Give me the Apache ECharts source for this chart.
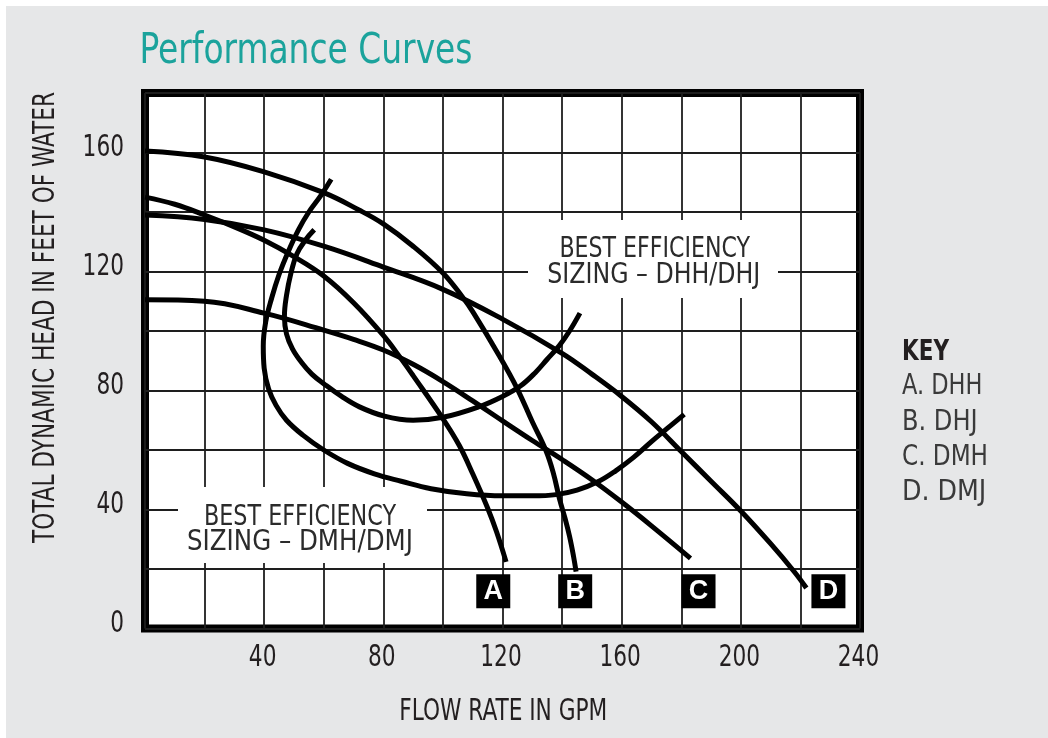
<!DOCTYPE html>
<html>
<head>
<meta charset="utf-8">
<script src="https://cdn.jsdelivr.net/npm/echarts@6/dist/echarts.min.js"></script>
<style>
html,body{margin:0;padding:0;background:#ffffff;}
#c{width:1048px;height:738px;}
</style>
</head>
<body>
<div id="c"></div>
<script>
// ---- tick labels ----
const xTickLabels = [40, 80, 120, 160, 200, 240];
const yTickLabels = [0, 40, 80, 120, 160];

// ---- pump curves [flow GPM, head ft] ----
const curveA = [[0,145],[10,142.6],[20,139],[30,135],[40,130.5],[50,125],[60,118.5],[70,109.5],[80,98.5],[85.5,91.3],[90,85],[100,70.5],[105.5,61.5],[110,52],[115,40.5],[118,32.5],[121.2,22.4]];
const curveB = [[0,160.5],[20,158.5],[40,153.5],[60,146.5],[72,140.6],[80,136],[90,128.5],[100,119.5],[106.5,111.5],[110,106.5],[119,91.5],[125,80.5],[130,69.5],[134.5,60],[137,52.5],[139.2,43.3],[141,37],[142.5,31],[143.8,24.5],[144.7,19.1]];
const curveC = [[0,110.5],[20,110],[40,106],[60,100.3],[70,97.2],[80,93.6],[90,88.8],[100,83],[110,76.5],[120,69.8],[130,63.2],[140,56.8],[150,50],[160,42.5],[170,34.5],[183.1,23.6]];
const curveD = [[0,139],[20,137.5],[40,134],[60,128.5],[80,121.5],[100,114],[120,104],[140,92.5],[150,85.5],[160,78],[170,69.5],[180,59.5],[190,49.5],[200,39.5],[210,28.5],[218,19],[222,13.6]];

// ---- best efficiency sizing envelopes ----
const effDHH = [[56.8,134],[53.8,130.5],[51,126],[49,119.5],[47.5,112],[46.8,105],[47.5,99],[49.5,94],[52.5,89.5],[56,85.5],[60,82.3],[66,78],[72,74.5],[80,71.5],[90,70],[100,71],[112,74.5],[120,78],[126,81.5],[131,86],[135,90.5],[139,95],[142.5,100],[146,106]];
const effDMH = [[62.5,151],[59,145.5],[55,140],[51.5,134],[48,126.5],[45,119],[42.5,111],[40.5,103],[39.7,95],[40,87.5],[41.5,80.5],[44,75],[47.5,70],[53,65],[60,60],[68,55.5],[77,52],[86,49.5],[96,47],[108,45.3],[120,44.6],[130,44.6],[138,45],[145,46.5],[152,49.3],[158,53],[164,57.5],[170,62.8],[175,67],[181,72]];

// ---- curve end markers ----
const markerLetters = ['A', 'B', 'C', 'D'];
const markerFlow = [116.9, 144.4, 185.8, 229.4];
const markerHead = [12.5, 12.5, 12.5, 12.5];

// ---- texts ----
const titleText = 'Performance Curves';
const xAxisTitle = 'FLOW RATE IN GPM';
const yAxisTitle = 'TOTAL DYNAMIC HEAD IN FEET OF WATER';
const keyTitle = 'KEY';
const keyItems = ['A. DHH', 'B. DHJ', 'C. DMH', 'D. DMJ'];
const noteDHH = ['BEST EFFICIENCY', 'SIZING \u2013 DHH/DHJ'];
const noteDMH = ['BEST EFFICIENCY', 'SIZING \u2013 DMH/DMJ'];

const FONT = '"Liberation Sans Narrow", "DejaVu Sans Condensed", "Arial Narrow", sans-serif';
const INK = '#231f20';

// measure text so condensed lettering can be fitted to the reference widths
const mctx = document.createElement('canvas').getContext('2d');
function textW(t, size, weight) {
  mctx.font = (weight || 'normal') + ' ' + size + 'px ' + FONT;
  return mctx.measureText(t).width;
}
// text element whose cap-centre sits at cy, fitted to width w
function fitted(id, t, opt) {
  const fs = opt.fs, wt = opt.weight || 'normal';
  const sx = opt.w ? opt.w / textW(t, fs, wt) : 1;
  const el = {
    type: 'text', id: id, z: 10, silent: true,
    x: opt.x, y: opt.cy + 0.07 * fs * (opt.rot ? 0 : 1), scaleX: sx,
    style: { text: t, x: 0, y: 0, fill: opt.color || INK, fontSize: fs, fontWeight: wt, fontFamily: FONT,
             align: opt.align || 'left', verticalAlign: 'middle' }
  };
  if (opt.rot) { el.rotation = opt.rot; el.x = opt.x - 0.07 * fs; }
  return el;
}

function curveSeries(name, data) {
  return {
    name: name, type: 'line', data: data, smooth: 0.4, showSymbol: false,
    lineStyle: { color: '#000', width: 5 }, z: 3, silent: true, animation: false
  };
}

const chart = echarts.init(document.getElementById('c'), null, { renderer: 'canvas' });
const baseOption = {
  animation: false,
  backgroundColor: '#ffffff',
  grid: {
    left: 145, right: 188, top: 93, bottom: 109.5,
    show: true, backgroundColor: '#ffffff', borderColor: '#000000', borderWidth: 8
  },
  xAxis: {
    type: 'value', min: 0, max: 240, interval: 20,
    axisLine: { show: false }, axisTick: { show: false }, axisLabel: { show: false },
    splitLine: { show: true, lineStyle: { color: '#1e1e1e', width: 1.8 } }
  },
  yAxis: {
    type: 'value', min: 0, max: 180, interval: 20,
    axisLine: { show: false }, axisTick: { show: false }, axisLabel: { show: false },
    splitLine: { show: true, lineStyle: { color: '#1e1e1e', width: 1.8 } }
  },
  series: [
    curveSeries('A', curveA),
    curveSeries('B', curveB),
    curveSeries('C', curveC),
    curveSeries('D', curveD),
    curveSeries('Best efficiency DHH/DHJ', effDHH),
    curveSeries('Best efficiency DMH/DMJ', effDMH),
    {
      name: 'markers', type: 'scatter', z: 5, silent: true,
      data: markerFlow.map(function (x, i) { return { value: [x, markerHead[i]], name: markerLetters[i] }; }),
      symbol: 'rect', symbolSize: 34,
      itemStyle: { color: '#000000', opacity: 1 },
      label: {
        show: true, position: 'inside', formatter: function (p) { return p.name; },
        color: '#ffffff', fontSize: 27, fontWeight: 'bold', fontFamily: '"Liberation Sans", Arial, sans-serif'
      }
    }
  ]
};
chart.setOption(baseOption);

const graphics = [
  { type: 'rect', id: 'panel', z: -100, silent: true, shape: { x: 6, y: 6, width: 1042, height: 732 }, style: { fill: '#e6e7e8' } },
  fitted('title', titleText, { x: 139.5, cy: 48.7, fs: 42, w: 333, color: '#1ba39c' }),
  fitted('ytitle', yAxisTitle, { x: 48.7, cy: 317.5, fs: 30, w: 451, align: 'center', rot: Math.PI / 2 }),
  fitted('xtitle', xAxisTitle, { x: 503.3, cy: 710, fs: 30, w: 208, align: 'center' }),
  fitted('key', keyTitle, { x: 902, cy: 350.3, fs: 29, w: 47, weight: 'bold' }),
  { type: 'rect', id: 'boxDHH', z: 1, silent: true, shape: { x: 528, y: 220, width: 250, height: 78 }, style: { fill: '#ffffff' } },
  { type: 'rect', id: 'boxDMH', z: 1, silent: true, shape: { x: 178, y: 487, width: 249, height: 76 }, style: { fill: '#ffffff' } },
  fitted('n1a', noteDHH[0], { x: 654.7, cy: 247.5, fs: 29, w: 190.5, align: 'center', color: '#2b2b2b' }),
  fitted('n1b', noteDHH[1], { x: 653.8, cy: 273.5, fs: 29, w: 213, align: 'center', color: '#2b2b2b' }),
  fitted('n2a', noteDMH[0], { x: 300, cy: 515, fs: 29, w: 192, align: 'center', color: '#2b2b2b' }),
  fitted('n2b', noteDMH[1], { x: 300, cy: 540.5, fs: 29, w: 226, align: 'center', color: '#2b2b2b' })
];
const keyY = [384.2, 420, 455.8, 490];
const keyW = [80.4, 75.6, 86, 84.3];
keyItems.forEach(function (t, i) {
  graphics.push(fitted('k' + i, t, { x: 902, cy: keyY[i], fs: 29, w: keyW[i], color: '#3a3a3a' }));
});
// tick labels, positioned through the chart's own axis scales
xTickLabels.forEach(function (v, i) {
  const px = chart.convertToPixel({ xAxisIndex: 0 }, v);
  const s = String(v);
  graphics.push(fitted('xt' + i, s, { x: px - 1.5, cy: 656, fs: 30, w: 13.8 * s.length, align: 'center' }));
});
yTickLabels.forEach(function (v, i) {
  const py = chart.convertToPixel({ yAxisIndex: 0 }, v);
  const s = String(v);
  graphics.push(fitted('yt' + i, s, { x: 124, cy: py - 6, fs: 30, w: 13.8 * s.length, align: 'right' }));
});
chart.setOption({ graphic: graphics });
</script>
</body>
</html>
